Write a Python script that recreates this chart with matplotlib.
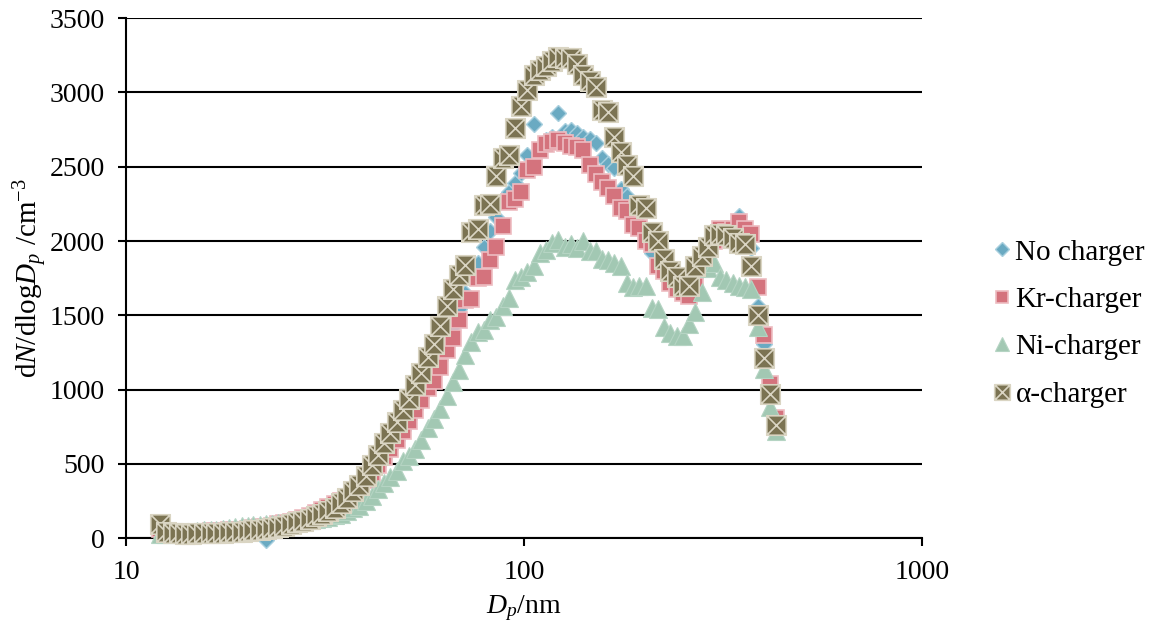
import numpy as np
import matplotlib
matplotlib.use("Agg")
from matplotlib import pyplot as plt
from matplotlib.path import Path

plt.rcParams['font.family'] = ['Liberation Serif', 'DejaVu Serif']
plt.rcParams['mathtext.fontset'] = 'custom'
plt.rcParams['mathtext.rm'] = 'Liberation Serif'
plt.rcParams['mathtext.it'] = 'Liberation Serif:italic'

# SMPS channel midpoints (nm)
dp = [12.2, 12.6, 13.1, 13.6, 14.1, 14.6, 15.1, 15.7, 16.3, 16.8,
      17.5, 18.1, 18.8, 19.5, 20.2, 20.9, 21.7, 22.5, 23.3, 24.1,
      25.0, 25.9, 26.9, 27.9, 28.9, 30.0, 31.1, 32.2, 33.4, 34.6,
      35.9, 37.2, 38.5, 40.0, 41.4, 42.9, 44.5, 46.1, 47.8, 49.6,
      51.4, 53.3, 55.2, 57.3, 59.4, 61.5, 63.8, 66.1, 68.5, 71.0,
      73.7, 76.4, 79.1, 82.0, 85.1, 88.2, 91.4, 94.7, 98.2, 101.8,
      105.5, 109.4, 113.4, 117.6, 121.9, 126.3, 131.0, 135.8, 140.7, 145.9,
      151.2, 156.8, 162.5, 168.5, 174.7, 181.1, 187.7, 194.6, 201.7, 209.1,
      216.7, 224.7, 232.9, 241.4, 250.3, 259.5, 269.0, 278.8, 289.0, 299.6,
      310.6, 322.0, 333.8, 346.0, 358.7, 371.8, 385.4, 399.5, 414.2, 429.4]

no_charger = [55, 45, 40, 38, 36, 36, 38, 40, 42, 44,
              46, 48, 50, 53, 56, 60, 40, -10, 75, 84,
              94, 104, 116, 130, 145, 162, 180, 200, 222, 246,
              272, 302, 338, 380, 430, 485, 540, 600, 660, 730,
              800, 870, 950, 1040, 1110, 1200, 1310, 1420, 1540, 1650,
              1760, 1850, 1960, 2070, 2160, 2280, 2330, 2390, 2460, 2580,
              2790, 2620, 2680, 2700, 2860, 2740, 2750, 2730, 2700, 2690,
              2660, 2560, 2520, 2490, 2350, 2300, 2200, 2120, 2000, 1920,
              1850, 1790, 1740, 1700, 1690, 1700, 1760, 1860, 1950, 2030,
              2060, 2080, 2100, 2170, 2020, 1950, 1560, 1310, 980, 780]

kr_charger = [60, 50, 45, 42, 40, 40, 42, 44, 46, 48,
              50, 52, 55, 58, 62, 66, 72, 78, 85, 93,
              102, 112, 124, 138, 152, 170, 188, 208, 228, 252,
              280, 310, 345, 390, 440, 495, 545, 600, 660, 720,
              790, 860, 930, 1010, 1060, 1150, 1270, 1350, 1470, 1600,
              1610, 1750, 1760, 1870, 1960, 2100, 2260, 2280, 2330, 2480,
              2500, 2610, 2650, 2670, 2680, 2660, 2640, 2630, 2610, 2510,
              2450, 2400, 2360, 2300, 2220, 2200, 2110, 2090, 2000, 1980,
              1830, 1800, 1720, 1680, 1650, 1630, 1700, 1820, 1920, 2000,
              2080, 2060, 2080, 2130, 2080, 2050, 1690, 1370, 1040, 810]

ni_charger = [30, 30, 32, 35, 40, 45, 48, 52, 55, 58,
              62, 70, 75, 80, 84, 88, 92, 96, 98, 100,
              102, 105, 108, 115, 122, 130, 138, 145, 155, 165,
              180, 200, 220, 250, 285, 330, 370, 410, 455, 520,
              550, 600, 660, 740, 800, 870, 960, 1050, 1130, 1230,
              1320, 1390, 1400, 1470, 1490, 1560, 1620, 1740, 1760, 1790,
              1830, 1920, 1940, 1990, 2010, 1960, 1980, 1950, 2000, 1930,
              1930, 1880, 1870, 1850, 1830, 1720, 1690, 1700, 1700, 1550,
              1540, 1420, 1380, 1360, 1360, 1440, 1520, 1660, 1820, 1850,
              1760, 1740, 1720, 1700, 1690, 1680, 1420, 1140, 880, 720]

alpha_charger = [95, 40, 35, 32, 30, 30, 32, 33, 35, 36,
                 38, 40, 42, 45, 48, 52, 56, 62, 68, 76,
                 85, 95, 106, 118, 132, 148, 165, 183, 200, 235,
                 270, 315, 360, 420, 490, 560, 640, 710, 780, 860,
                 940, 1030, 1110, 1220, 1310, 1430, 1560, 1680, 1770, 1840,
                 2060, 2080, 2240, 2250, 2440, 2560, 2580, 2760, 2910, 3020,
                 3120, 3150, 3180, 3210, 3240, 3230, 3230, 3190, 3120, 3080,
                 3040, 2880, 2870, 2700, 2600, 2510, 2440, 2240, 2220, 2060,
                 2000, 1880, 1800, 1760, 1700, 1700, 1830, 1900, 1960, 2040,
                 2050, 2040, 2020, 1990, 1980, 1830, 1500, 1210, 970, 760]

labels = ['No charger', 'Kr-charger', 'Ni-charger', 'α-charger']

# square with an X inside
box_x = Path([(-1, -1), (1, -1), (1, 1), (-1, 1), (-1, -1),
              (-1, -1), (1, 1), (-1, 1), (1, -1)],
             [Path.MOVETO, Path.LINETO, Path.LINETO, Path.LINETO, Path.CLOSEPOLY,
              Path.MOVETO, Path.LINETO, Path.MOVETO, Path.LINETO])

fig = plt.figure(figsize=(11.56, 6.28), dpi=100)
ax = fig.add_axes([0.109, 0.143, 0.689, 0.828])

ax.plot(dp, no_charger, ls='none', marker='D', ms=8.5, mfc='#6AAAC2', mec='#A8CFDE',
        mew=1.0, label=labels[0], clip_on=False, zorder=3)
ax.plot(dp, kr_charger, ls='none', marker='s', ms=11.5, mfc='#D4737D', mec='#EDBCC1',
        mew=1.2, label=labels[1], clip_on=False, zorder=4)
ax.plot(dp, ni_charger, ls='none', marker='^', ms=12.5, mfc='#A2C8B3', mec='#B5D4C3',
        mew=0.8, label=labels[2], clip_on=False, zorder=5)
ax.plot(dp, alpha_charger, ls='none', marker=box_x, ms=14, mfc='#7B7352', mec='#DAD5C3',
        mew=1.2, label=labels[3], clip_on=False, zorder=6)

ax.set_xscale('log')
ax.set_xlim(10, 1000)
ax.set_ylim(0, 3500)
ax.set_yticks(np.arange(0, 3501, 500))
ax.set_xticks([10, 100, 1000])
ax.set_xticklabels(['10', '100', '1000'])
ax.xaxis.set_minor_locator(matplotlib.ticker.NullLocator())

ax.grid(axis='y', color='black', lw=1.5)
ax.set_axisbelow(True)
for s in ['top', 'right']:
    ax.spines[s].set_visible(False)
ax.spines['left'].set_linewidth(1.5)
ax.spines['bottom'].set_linewidth(1.5)
ax.tick_params(axis='both', labelsize=20, width=1.5, length=6, color='black')
ax.tick_params(axis='x', pad=10)
ax.tick_params(axis='y', pad=9)

ax.set_xlabel(r'$D_p$/nm', fontsize=20, labelpad=6)
ax.set_ylabel(r'd$N$/dlog$D_p$ /cm$^{-3}$', fontsize=21)
ax.yaxis.set_label_coords(-0.096, 0.5)

fig.legend(loc='center left', bbox_to_anchor=(0.857, 0.485), frameon=False,
           fontsize=21, handletextpad=0.05, labelspacing=0.72, handlelength=0.8,
           markerscale=0.8, borderaxespad=0, borderpad=0)

plt.savefig('out.png', dpi=100)
